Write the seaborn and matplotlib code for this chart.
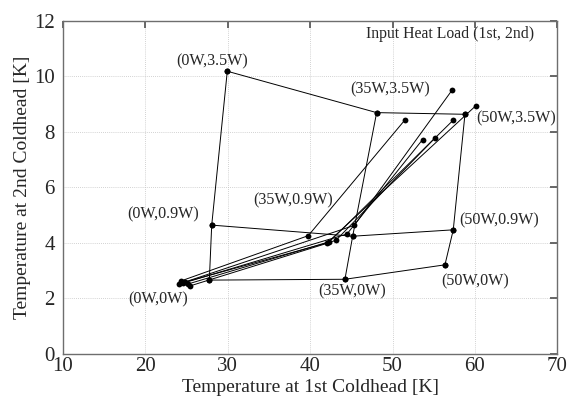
import matplotlib
matplotlib.use("Agg")
import matplotlib.pyplot as plt
import seaborn as sns
import pandas as pd

# Load map: rows = 1st-stage heat load, columns = 2nd-stage heat load
load_1st = ["0W", "35W", "50W"]
load_2nd = ["0W", "0.9W", "3.5W"]
map_t1 = [[27.76, 28.05, 29.94],
          [44.22, 45.16, 48.07],
          [56.36, 57.37, 58.79]]
map_t2 = [[2.66, 4.64, 10.18],
          [2.69, 4.24, 8.69],
          [3.21, 4.47, 8.63]]

# Transient paths: start -> intermediate -> end (1st, 2nd coldhead temperature)
path_t1_start = [24.32, 24.08, 24.56, 24.81, 25.17, 25.41]
path_t2_start = [2.63, 2.52, 2.55, 2.59, 2.52, 2.45]
path_t1_mid = [39.77, 45.35, 44.47, 43.13, 42.32, 42.00]
path_t2_mid = [4.26, 4.63, 4.32, 4.09, 4.04, 3.98]
path_t1_end = [51.54, 57.25, 53.65, 55.15, 57.37, 60.08]
path_t2_end = [8.44, 9.51, 7.72, 7.78, 8.42, 8.93]

# Build a long table of polylines
rows = []
uid = 0
for i in range(len(load_1st)):          # constant 1st-stage load
    for j in range(len(load_2nd)):
        rows.append(dict(u=uid, o=j, t1=map_t1[i][j], t2=map_t2[i][j]))
    uid += 1
for j in range(len(load_2nd)):          # constant 2nd-stage load
    for i in range(len(load_1st)):
        rows.append(dict(u=uid, o=i, t1=map_t1[i][j], t2=map_t2[i][j]))
    uid += 1
for k in range(len(path_t1_start)):
    for o, (a, b) in enumerate([(path_t1_start[k], path_t2_start[k]),
                                (path_t1_mid[k], path_t2_mid[k]),
                                (path_t1_end[k], path_t2_end[k])]):
        rows.append(dict(u=uid, o=o, t1=a, t2=b))
    uid += 1
df = pd.DataFrame(rows)

sns.set_theme(style="white")
plt.rcParams["font.family"] = ["Liberation Serif", "DejaVu Serif"]
plt.rcParams["mathtext.fontset"] = "stix"

fig = plt.figure(figsize=(5.84, 4.04), dpi=100)
ax = fig.add_axes([0.1079, 0.1238, 0.8464, 0.825])

sns.lineplot(data=df, x="t1", y="t2", units="u", estimator=None, sort=False,
             color="black", linewidth=0.7, marker="o", markersize=4.2,
             markeredgewidth=0, ax=ax, legend=False)

ax.set_xlim(10, 70)
ax.set_ylim(0, 12)
ax.set_xticks(range(10, 71, 10))
ax.set_yticks(range(0, 13, 2))
ax.grid(True, linestyle=(0, (1, 1.5)), color="#c4c4c4", linewidth=0.6)
ax.tick_params(axis="both", which="both", direction="in", length=5,
               top=True, right=True, labelsize=15, color="#555555")
ax.tick_params(axis="x", pad=2)
ax.tick_params(axis="y", pad=6)
for s in ax.spines.values():
    s.set_color("#6e6e6e")
    s.set_linewidth(1.0)

ax.set_xlabel("Temperature at 1st Coldhead [K]", fontsize=14, labelpad=2)
ax.set_ylabel("Temperature at 2nd Coldhead [K]", fontsize=14, labelpad=2)

# Point labels (1st, 2nd) next to each load-map corner
lab_fs = 11.6
def lab(i, j, dx, dy, ha):
    ax.annotate(f"({load_1st[i]},{load_2nd[j]})", (map_t1[i][j], map_t2[i][j]),
                xytext=(dx, dy), textcoords="offset points", ha=ha, va="center",
                fontsize=lab_fs)

lab(0, 2, -11, 7, "center")
lab(1, 2, 10, 17, "center")
lab(2, 2, 8, -3, "left")
lab(0, 1, -9, 8, "right")
lab(1, 1, -14, 26, "right")
lab(2, 1, 4, 7, "left")
lab(0, 0, -37, -14, "center")
lab(1, 0, 5, -9, "center")
lab(2, 0, 22, -12, "center")

ax.text(0.9534, 0.960, "Input Heat Load (1st, 2nd)", transform=ax.transAxes,
        ha="right", va="center", fontsize=11.3)

fig.savefig("out.png", dpi=100)
